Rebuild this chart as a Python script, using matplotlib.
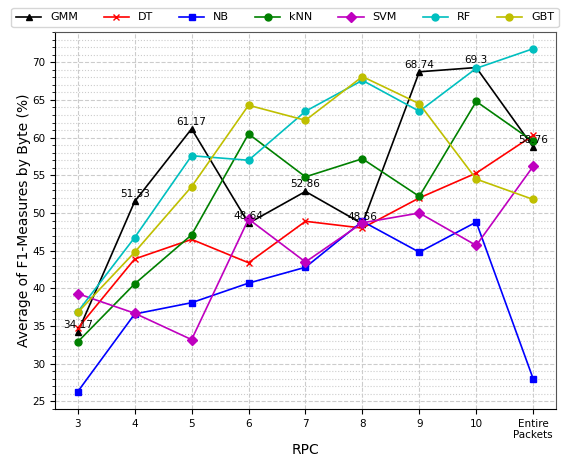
import matplotlib
matplotlib.use("Agg")
import matplotlib.pyplot as plt
from matplotlib.ticker import MultipleLocator

categories = ["3", "4", "5", "6", "7", "8", "9", "10", "Entire\nPackets"]
gmm = [34.17, 51.53, 61.17, 48.64, 52.86, 48.56, 68.74, 69.3, 58.76]
dt = [34.7, 43.9, 46.5, 43.4, 48.9, 48.0, 52.0, 55.3, 60.3]
nb = [26.3, 36.6, 38.1, 40.7, 42.8, 48.9, 44.8, 48.8, 28.0]
knn = [32.9, 40.6, 47.1, 60.5, 54.8, 57.2, 52.2, 64.8, 59.5]
svm = [39.3, 36.7, 33.2, 49.2, 43.5, 48.7, 50.0, 45.7, 56.2]
rf = [36.9, 46.75, 57.6, 57.0, 63.5, 67.6, 63.5, 69.2, 71.8]
gbt = [36.8, 44.8, 53.5, 64.3, 62.3, 68.1, 64.5, 54.5, 51.8]

series = [
    ("GMM", gmm, "k", "^"),
    ("DT", dt, "r", "x"),
    ("NB", nb, "b", "s"),
    ("kNN", knn, "g", "o"),
    ("SVM", svm, "m", "D"),
    ("RF", rf, "c", "o"),
    ("GBT", gbt, "y", "o"),
]

fig = plt.figure(figsize=(5.61, 4.59), dpi=100)
ax = fig.add_axes([0.098, 0.109, 0.893, 0.821])
x = list(range(len(categories)))
for name, vals, c, m in series:
    ax.plot(x, vals, color=c, marker=m, markersize=5, linewidth=1.2, label=name)

for xi, v in zip(x, gmm):
    ax.annotate(f"{v:g}", (xi, v), textcoords="offset points", xytext=(0, 1.5),
                ha="center", va="bottom", fontsize=7.5)

ax.set_xlim(-0.4, 8.4)
ax.set_ylim(24, 74)
ax.set_xticks(x)
ax.set_xticklabels(categories, fontsize=7.5)
ax.yaxis.set_major_locator(MultipleLocator(5))
ax.yaxis.set_minor_locator(MultipleLocator(1))
ax.tick_params(axis="y", labelsize=7.5)
ax.grid(which="major", linestyle="--", color="#cccccc", linewidth=0.8)
ax.grid(which="minor", axis="y", linestyle=":", color="#cccccc", linewidth=0.8)
ax.set_axisbelow(True)
ax.set_xlabel("RPC", fontsize=10, labelpad=2)
ax.set_ylabel("Average of F1-Measures by Byte (%)", fontsize=10, labelpad=1)
for s in ["top", "right"]:
    ax.spines[s].set_color("#555555")

ax.legend(loc="lower center", bbox_to_anchor=(0.459, 1.005), ncol=7, fontsize=8,
          handlelength=2.3, handletextpad=0.8, columnspacing=2.3, borderaxespad=0.3)

fig.savefig("out.png", dpi=100)
